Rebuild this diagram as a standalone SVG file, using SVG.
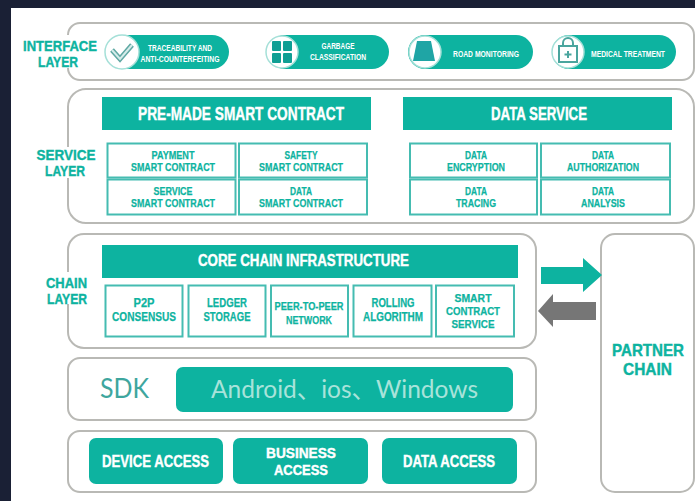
<svg xmlns="http://www.w3.org/2000/svg" width="695" height="501" viewBox="0 0 695 501">
<style>
text{font-family:"Liberation Sans","Noto Sans CJK SC",sans-serif;font-weight:700;text-anchor:middle}
.box{fill:#fff;stroke:#b9b9b5;stroke-width:2}
.bar{fill:#0db3a0}
.cell{fill:#fff;stroke:#45bcb1;stroke-width:2}
.lab{fill:#0db3a0;stroke:#0db3a0;stroke-width:.4px;font-size:15.500px}
.hd{fill:#fff;stroke:#fff;stroke-width:.4px;font-size:18px}
.core{font-size:16px}
.t{fill:#0db3a0;stroke:#0db3a0;stroke-width:.25px;font-size:11.500px}
.c{fill:#0db3a0;stroke:#0db3a0;stroke-width:.25px;font-size:13px}
.w{fill:#fff;stroke:#fff;stroke-width:.4px;font-size:16.500px}
.w2{font-size:14.800px}
.pc{font-size:16.500px}
.p{fill:#fff;font-size:8.500px}
.disc{fill:#fff;stroke:#a5e0d8;stroke-width:1.500}
.ic{fill:#0f9f94}
.icl{fill:none;stroke:#4aa59e;stroke-width:2}
.sdk{font-family:Lato,"Noto Sans CJK SC",sans-serif;font-weight:400}
.sdk1{font-size:26px;fill:#3ea69e}
.sdk2{font-size:25px;fill:#a8e3da}
</style>
<rect width="695" height="501" fill="#fff"/>
<rect width="695" height="8" fill="#1a2035"/>
<rect width="11" height="501" fill="#1a2035"/>

<g id="interface-layer">
<rect class="box" x="68" y="23" width="626" height="57" rx="12"/>
<rect x="12" y="35" width="84" height="33" fill="#fff"/>
<text class="lab" x="60" y="51" textLength="74" lengthAdjust="spacingAndGlyphs">INTERFACE</text>
<text class="lab" x="58" y="67" textLength="40" lengthAdjust="spacingAndGlyphs">LAYER</text>
</g>
<g id="pill-traceability">
<rect class="bar" x="107" y="35" width="122" height="34" rx="17"/>
<circle class="disc" cx="122" cy="52" r="17"/>
<path d="M112 50l8 9 12-14" fill="none" stroke="#5fa8a3" stroke-width="5"/>
<path d="M112 50l8 9 12-14" fill="none" stroke="#d5ecea" stroke-width="2"/>
<text class="p" x="180" y="51" textLength="64" lengthAdjust="spacingAndGlyphs">TRACEABILITY AND</text>
<text class="p" x="180" y="62" textLength="79" lengthAdjust="spacingAndGlyphs">ANTI-COUNTERFEITING</text>
</g>
<g id="pill-garbage">
<rect class="bar" x="268" y="35" width="121" height="34" rx="17"/>
<circle class="disc" cx="282" cy="52" r="16"/>
<rect class="ic" x="272" y="41" width="9" height="10" rx="1"/><rect class="ic" x="283" y="41" width="9" height="10" rx="1"/>
<rect class="ic" x="272" y="53" width="9" height="10" rx="1"/><rect class="ic" x="283" y="53" width="9" height="10" rx="1"/>
<text class="p" x="338" y="49" textLength="33" lengthAdjust="spacingAndGlyphs">GARBAGE</text>
<text class="p" x="338" y="60" textLength="56" lengthAdjust="spacingAndGlyphs">CLASSIFICATION</text>
</g>
<g id="pill-road">
<rect class="bar" x="408" y="35" width="125" height="34" rx="17"/>
<circle class="disc" cx="425" cy="52" r="16"/>
<path fill="#1fa5a5" d="M417 41h14l4 20h-22z"/>
<text class="p" x="486" y="57" textLength="66" lengthAdjust="spacingAndGlyphs">ROAD MONITORING</text>
</g>
<g id="pill-medical">
<rect class="bar" x="552" y="35" width="124" height="34" rx="17"/>
<circle class="disc" cx="568" cy="52" r="16"/>
<rect class="icl" x="559" y="46" width="18" height="16"/>
<path class="icl" d="M563 46v-3a5 5 0 0 1 10 0v3"/>
<path class="icl" d="M568 51v7M564.500 54.500h7"/>
<text class="p" x="628" y="57" textLength="74" lengthAdjust="spacingAndGlyphs">MEDICAL TREATMENT</text>
</g>

<g id="service-layer">
<rect class="box" x="68" y="89" width="626" height="134" rx="18"/>
<rect x="12" y="147" width="84" height="31" fill="#fff"/>
<text class="lab" x="66" y="160" textLength="59" lengthAdjust="spacingAndGlyphs">SERVICE</text>
<text class="lab" x="65" y="176" textLength="40" lengthAdjust="spacingAndGlyphs">LAYER</text>
</g>
<g id="pre-made">
<rect class="bar" x="102" y="97" width="269" height="33"/>
<text class="hd" x="241" y="120" textLength="206" lengthAdjust="spacingAndGlyphs">PRE-MADE SMART CONTRACT</text>
</g>
<g id="data-service">
<rect class="bar" x="403" y="97" width="269" height="33"/>
<text class="hd" x="539" y="120" textLength="96" lengthAdjust="spacingAndGlyphs">DATA SERVICE</text>
</g>
<g id="payment"><rect class="cell" x="107.500" y="143.500" width="128" height="34"/>
<text class="t" x="173" y="159" textLength="43" lengthAdjust="spacingAndGlyphs">PAYMENT</text><text class="t" x="173" y="171" textLength="84" lengthAdjust="spacingAndGlyphs">SMART CONTRACT</text></g>
<g id="safety"><rect class="cell" x="239" y="143.500" width="128" height="34"/>
<text class="t" x="301" y="159" textLength="33" lengthAdjust="spacingAndGlyphs">SAFETY</text><text class="t" x="301" y="171" textLength="84" lengthAdjust="spacingAndGlyphs">SMART CONTRACT</text></g>
<g id="service"><rect class="cell" x="107.500" y="179.500" width="128" height="35"/>
<text class="t" x="173" y="195" textLength="39" lengthAdjust="spacingAndGlyphs">SERVICE</text><text class="t" x="173" y="207" textLength="84" lengthAdjust="spacingAndGlyphs">SMART CONTRACT</text></g>
<g id="data"><rect class="cell" x="239" y="179.500" width="128" height="35"/>
<text class="t" x="301" y="195" textLength="22" lengthAdjust="spacingAndGlyphs">DATA</text><text class="t" x="301" y="207" textLength="84" lengthAdjust="spacingAndGlyphs">SMART CONTRACT</text></g>
<g id="encryption"><rect class="cell" x="410" y="143.500" width="127" height="34"/>
<text class="t" x="476" y="159" textLength="22" lengthAdjust="spacingAndGlyphs">DATA</text><text class="t" x="476" y="171" textLength="58" lengthAdjust="spacingAndGlyphs">ENCRYPTION</text></g>
<g id="authorization"><rect class="cell" x="541" y="143.500" width="129" height="34"/>
<text class="t" x="603" y="159" textLength="22" lengthAdjust="spacingAndGlyphs">DATA</text><text class="t" x="603" y="171" textLength="72" lengthAdjust="spacingAndGlyphs">AUTHORIZATION</text></g>
<g id="tracing"><rect class="cell" x="410" y="179.500" width="127" height="35"/>
<text class="t" x="476" y="195" textLength="22" lengthAdjust="spacingAndGlyphs">DATA</text><text class="t" x="476" y="207" textLength="40" lengthAdjust="spacingAndGlyphs">TRACING</text></g>
<g id="analysis"><rect class="cell" x="541" y="179.500" width="129" height="35"/>
<text class="t" x="603" y="195" textLength="22" lengthAdjust="spacingAndGlyphs">DATA</text><text class="t" x="603" y="207" textLength="44" lengthAdjust="spacingAndGlyphs">ANALYSIS</text></g>

<g id="chain-layer">
<rect class="box" x="68" y="234" width="468" height="114" rx="16"/>
<rect x="18" y="272" width="72" height="32" fill="#fff"/>
<text class="lab" x="66.500" y="288" textLength="41" lengthAdjust="spacingAndGlyphs">CHAIN</text>
<text class="lab" x="67" y="304" textLength="40" lengthAdjust="spacingAndGlyphs">LAYER</text>
</g>
<g id="core-chain">
<rect class="bar" x="102" y="245" width="416" height="33"/>
<text class="hd core" x="303.500" y="266" textLength="211" lengthAdjust="spacingAndGlyphs">CORE CHAIN INFRASTRUCTURE</text>
</g>
<g id="p2p"><rect class="cell" x="105.500" y="285.500" width="77" height="51"/>
<text class="c" x="144" y="307" textLength="21" lengthAdjust="spacingAndGlyphs">P2P</text><text class="c" x="144" y="321" textLength="64" lengthAdjust="spacingAndGlyphs">CONSENSUS</text></g>
<g id="ledger"><rect class="cell" x="188.500" y="285.500" width="77" height="51"/>
<text class="c" x="227" y="307" textLength="40" lengthAdjust="spacingAndGlyphs">LEDGER</text><text class="c" x="227" y="321" textLength="47" lengthAdjust="spacingAndGlyphs">STORAGE</text></g>
<g id="peer"><rect class="cell" x="271" y="285.500" width="77" height="51"/>
<text class="t" x="309" y="310" textLength="69" lengthAdjust="spacingAndGlyphs">PEER-TO-PEER</text><text class="t" x="309" y="324" textLength="46" lengthAdjust="spacingAndGlyphs">NETWORK</text></g>
<g id="rolling"><rect class="cell" x="353.500" y="285.500" width="78" height="51"/>
<text class="c" x="393" y="307" textLength="43" lengthAdjust="spacingAndGlyphs">ROLLING</text><text class="c" x="393" y="321" textLength="60" lengthAdjust="spacingAndGlyphs">ALGORITHM</text></g>
<g id="smart-service"><rect class="cell" x="436" y="285.500" width="78" height="51"/>
<text class="t" x="473" y="302" textLength="37" lengthAdjust="spacingAndGlyphs">SMART</text><text class="t" x="473" y="315" textLength="54" lengthAdjust="spacingAndGlyphs">CONTRACT</text><text class="t" x="473" y="328" textLength="43" lengthAdjust="spacingAndGlyphs">SERVICE</text></g>

<g id="sdk">
<rect class="box" x="68" y="358" width="468" height="62" rx="12"/>
<text class="sdk sdk1" x="124.500" y="398" textLength="49" lengthAdjust="spacingAndGlyphs">SDK</text>
<rect class="bar" x="176" y="367" width="337" height="45" rx="7"/>
<text class="sdk sdk2" x="344.500" y="398" textLength="267" lengthAdjust="spacingAndGlyphs">Android、ios、Windows</text>
</g>

<g id="access">
<rect class="box" x="68" y="431" width="468" height="61" rx="12"/>
</g>
<g id="device-access"><rect class="bar" x="89" y="438" width="134" height="46" rx="7"/>
<text class="w" x="155.500" y="467" textLength="107" lengthAdjust="spacingAndGlyphs">DEVICE ACCESS</text></g>
<g id="business-access"><rect class="bar" x="233" y="438" width="135" height="46" rx="7"/>
<text class="w w2" x="301" y="458" textLength="70" lengthAdjust="spacingAndGlyphs">BUSINESS</text><text class="w w2" x="301" y="475" textLength="54" lengthAdjust="spacingAndGlyphs">ACCESS</text></g>
<g id="data-access"><rect class="bar" x="382" y="438" width="135" height="46" rx="7"/>
<text class="w" x="449" y="467" textLength="92" lengthAdjust="spacingAndGlyphs">DATA ACCESS</text></g>

<g id="partner-chain">
<rect class="box" x="601" y="234" width="93" height="258" rx="14"/>
<text class="lab pc" x="648" y="356" textLength="72" lengthAdjust="spacingAndGlyphs">PARTNER</text>
<text class="lab pc" x="647.500" y="375" textLength="49" lengthAdjust="spacingAndGlyphs">CHAIN</text>
</g>

<g id="connectors">
<path fill="#0db3a0" d="M541 267H583V258L602 275 583 292V284H541Z"/>
<path fill="#767676" d="M596 302H553V294L538 311 553 327V320H596Z"/>
</g>
</svg>
